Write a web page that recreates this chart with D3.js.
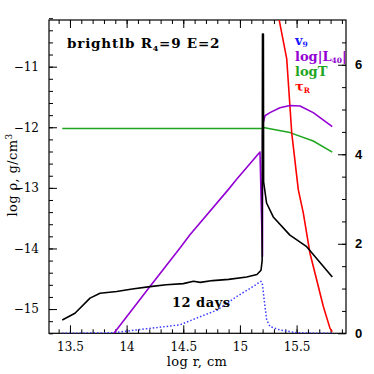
<!DOCTYPE html>
<html>
<head>
<meta charset="utf-8">
<script src="https://cdn.jsdelivr.net/npm/d3@7"></script>
<style>
  body { margin: 0; background: #fff; }
  svg { display: block; }
</style>
</head>
<body>
<div id="chart"></div>
<script>
const width = 374, height = 374;
const margin = ({ top: 20, right: 28, bottom: 40.7, left: 49 });

// log r grid per series
const rhoX = [13.432, 13.544, 13.677, 13.765, 13.912, 14.05, 14.206, 14.35, 14.5, 14.59, 14.65, 14.76, 14.9, 15.06, 15.15, 15.186, 15.196, 15.199, 15.207, 15.209, 15.235, 15.294, 15.441, 15.589, 15.815];
const rhoY = [-15.18, -15.07, -14.82, -14.74, -14.71, -14.67, -14.63, -14.6, -14.58, -14.54, -14.56, -14.53, -14.51, -14.47, -14.43, -14.36, -14.2, -10.46, -10.46, -12.9, -13.25, -13.48, -13.78, -13.97, -14.47];

const lumX = [13.888, 14.206, 14.471, 14.559, 14.897, 14.971, 15.177, 15.199, 15.2, 15.206, 15.221, 15.265, 15.353, 15.441, 15.53, 15.647, 15.815];
const lumY = [0, 1.045, 1.906, 2.2, 3.21, 3.44, 4.05, 1.72, 4.5, 4.71, 4.86, 4.93, 5.04, 5.09, 5.08, 4.93, 4.62];

const tempX = [13.432, 14.0, 14.5, 15.0, 15.19, 15.206, 15.441, 15.647, 15.815];
const tempY = [4.574, 4.574, 4.574, 4.574, 4.574, 4.596, 4.484, 4.296, 4.05];

const tauX = [15.335, 15.345, 15.413, 15.457, 15.515, 15.559, 15.618, 15.677, 15.736, 15.795, 15.815];
const tauY = [7.25, 7.02, 6.13, 4.48, 3.21, 2.69, 1.79, 1.195, 0.6, 0.11, 0.036];

const velX = [13.43, 13.68, 13.88, 14.206, 14.471, 14.647, 14.8, 14.97, 15.088, 15.186, 15.197, 15.221, 15.236, 15.265, 15.353, 15.5, 15.706, 15.81];
const velY = [0, 0.005, 0.013, 0.11, 0.19, 0.37, 0.52, 0.82, 1.0, 1.16, 1.12, 0.6, 0.3, 0.15, 0.074, 0.013, 0, 0];

const xMajor = [13.5, 14, 14.5, 15, 15.5];
const yLeftMajor = [-11, -12, -13, -14, -15];
const yRightMajor = [0, 2, 4, 6];

const legendItems = [
  { label: "v", sub: "9", color: "#1a1aff" },
  { label: "log|L", sub: "40", tail: "|", color: "#9400d3" },
  { label: "logT", color: "#1fa51f" },
  { label: "\u03c4", sub: "R", color: "#ff0000" }
];
const legendBase = [45, 61, 75.5, 90.5];

const x = d3.scaleLinear().domain([13.315, 15.936]).range([margin.left, width - margin.right]);
const yL = d3.scaleLinear().domain([-15.4, -10.23]).range([height - margin.bottom, margin.top]);
const yR = d3.scaleLinear().domain([0, 7]).range([height - margin.bottom, margin.top]);

const svg = d3.select('#chart').append('svg')
  .attr('width', width)
  .attr('height', height);

svg.append('defs').append('clipPath').attr('id', 'plot')
  .append('rect')
  .attr('x', margin.left).attr('y', margin.top)
  .attr('width', width - margin.left - margin.right)
  .attr('height', height - margin.top - margin.bottom);

const serif = "'DejaVu Serif', serif";

// axes: major and minor ticks pointing inward
function styleAxis(g) {
  g.select('.domain').remove();
  g.selectAll('line').attr('stroke', '#000').attr('stroke-width', 1);
}
const bottomY = height - margin.bottom, rightX = width - margin.right;

svg.append('g').attr('transform', `translate(0,${bottomY})`)
  .call(d3.axisBottom(x).tickValues(d3.range(13.4, 15.95, 0.1)).tickSize(-4).tickFormat(''))
  .call(styleAxis);
svg.append('g').attr('transform', `translate(0,${bottomY})`)
  .call(d3.axisBottom(x).tickValues(xMajor).tickSize(-8).tickPadding(9).tickFormat(d3.format('')))
  .call(styleAxis)
  .call(g => g.selectAll('text').attr('font-family', serif).attr('font-size', 12).attr('fill', '#000'));

svg.append('g').attr('transform', `translate(0,${margin.top})`)
  .call(d3.axisTop(x).tickValues(d3.range(13.4, 15.95, 0.1)).tickSize(-4).tickFormat(''))
  .call(styleAxis);
svg.append('g').attr('transform', `translate(0,${margin.top})`)
  .call(d3.axisTop(x).tickValues(xMajor).tickSize(-8).tickFormat(''))
  .call(styleAxis);

svg.append('g').attr('transform', `translate(${margin.left},0)`)
  .call(d3.axisLeft(yL).tickValues(d3.range(-15.4, -10.2, 0.2)).tickSize(-4).tickFormat(''))
  .call(styleAxis);
svg.append('g').attr('transform', `translate(${margin.left},0)`)
  .call(d3.axisLeft(yL).tickValues(yLeftMajor).tickSize(-8).tickPadding(10).tickFormat(d3.format('d')))
  .call(styleAxis)
  .call(g => g.selectAll('text').attr('font-family', serif).attr('font-size', 12).attr('fill', '#000'));

svg.append('g').attr('transform', `translate(${rightX},0)`)
  .call(d3.axisRight(yR).tickValues(d3.range(0.5, 7, 0.5)).tickSize(-4).tickFormat(''))
  .call(styleAxis);
svg.append('g').attr('transform', `translate(${rightX},0)`)
  .call(d3.axisRight(yR).tickValues(yRightMajor).tickSize(-8).tickPadding(9).tickFormat(d3.format('d')))
  .call(styleAxis)
  .call(g => g.selectAll('text').attr('font-family', 'Liberation Sans, Arial, sans-serif')
    .attr('font-weight', 'bold').attr('font-size', 13).attr('fill', '#000'));

// frame
svg.append('rect')
  .attr('x', margin.left).attr('y', margin.top)
  .attr('width', width - margin.left - margin.right)
  .attr('height', height - margin.top - margin.bottom)
  .attr('fill', 'none').attr('stroke', '#000').attr('stroke-width', 1.2);

// curves
const curves = svg.append('g').attr('clip-path', 'url(#plot)').attr('fill', 'none');
function draw(xs, ys, yScale, color, w, dash) {
  const line = d3.line().x(d => x(d[0])).y(d => yScale(d[1]));
  curves.append('path')
    .attr('d', line(d3.zip(xs, ys)))
    .attr('stroke', color)
    .attr('stroke-width', w)
    .attr('stroke-linejoin', 'round')
    .attr('stroke-dasharray', dash || null);
}
draw(velX, velY, yR, '#3a3aff', 1.5, '1.5,2');
draw(tempX, tempY, yR, '#1fa51f', 1.5);
draw(tauX, tauY, yR, '#ff0000', 1.6);
draw(lumX, lumY, yR, '#9400d3', 1.6);
draw(rhoX, rhoY, yL, '#000', 1.6);

// annotations
const title = svg.append('text')
  .attr('x', 67).attr('y', 48)
  .attr('font-family', serif).attr('font-weight', 'bold').attr('font-size', 13.5)
  .attr('letter-spacing', 0.8)
  .attr('fill', '#000');
title.append('tspan').text('brightlb R');
title.append('tspan').attr('font-size', 8).attr('dy', 3).text('4');
title.append('tspan').attr('dy', -3).text('=9 E=2');

svg.append('text')
  .attr('x', 172).attr('y', 306.5)
  .attr('font-family', serif).attr('font-weight', 'bold').attr('font-size', 13)
  .attr('letter-spacing', 0.5)
  .text('12 days');

legendItems.forEach((d, i) => {
  const t = svg.append('text')
    .attr('x', 295).attr('y', legendBase[i])
    .attr('font-family', serif).attr('font-weight', 'bold').attr('font-size', 13)
    .attr('fill', d.color);
  t.append('tspan').text(d.label);
  if (d.sub) t.append('tspan').attr('font-size', 7.5).attr('dy', 2).text(d.sub);
  if (d.tail) t.append('tspan').attr('dy', -2).text(d.tail);
});

svg.append('text')
  .attr('x', 197).attr('y', 366)
  .attr('text-anchor', 'middle')
  .attr('font-family', serif).attr('font-size', 13)
  .attr('letter-spacing', 0.4)
  .text('log r, cm');

const ylab = svg.append('text')
  .attr('transform', 'translate(17,175) rotate(-90)')
  .attr('text-anchor', 'middle')
  .attr('font-family', serif).attr('font-size', 13)
  .attr('letter-spacing', 0.4);
ylab.append('tspan').text('log \u03c1, g/cm');
ylab.append('tspan').attr('font-size', 9).attr('dy', -5).text('3');
</script>
</body>
</html>
